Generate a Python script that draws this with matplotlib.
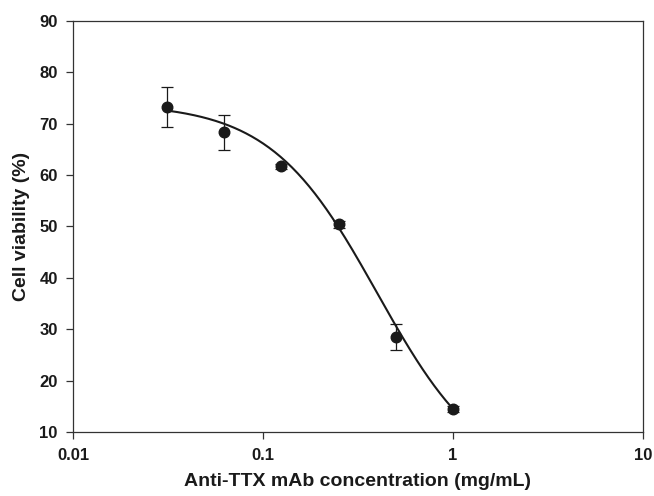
import numpy as np
import matplotlib
matplotlib.use('Agg')
import matplotlib.pyplot as plt
from matplotlib.ticker import FixedLocator, FixedFormatter, NullLocator

# mAb concentration (mg/mL), mean viability (%) and SD
conc = [0.03125, 0.0625, 0.125, 0.25, 0.5, 1.0]
viability = [73.2, 68.3, 61.7, 50.4, 28.5, 14.5]
sd = [3.9, 3.4, 0.5, 0.7, 2.5, 0.6]

# four-parameter logistic fit of the dose response
fit_top = 74.0
fit_bottom = 0.0
fit_ic50 = 0.40
fit_hill = 1.54

xticks = [0.01, 0.1, 1, 10]
xticklabels = ['0.01', '0.1', '1', '10']
yticks = [10, 20, 30, 40, 50, 60, 70, 80, 90]

plt.rcParams['font.family'] = ['Liberation Sans', 'DejaVu Sans']
plt.rcParams['font.weight'] = 'bold'

fig = plt.figure(figsize=(6.54, 4.96), dpi=100)
ax = fig.add_axes([0.1116, 0.129, 0.8714, 0.8287])

xs = np.logspace(np.log10(conc[0]), np.log10(conc[-1]), 200)
ys = fit_bottom + (fit_top - fit_bottom) / (1 + (xs / fit_ic50) ** fit_hill)
ax.plot(xs, ys, color='#1a1a1a', lw=1.5, zorder=2)

ax.errorbar(conc, viability, yerr=sd, fmt='o', color='#1a1a1a', ms=7.6,
            ecolor='#1a1a1a', elinewidth=0.9, capsize=4.6, capthick=0.9, zorder=3)

ax.set_xscale('log')
ax.set_xlim(0.01, 10)
ax.set_ylim(10, 90)
ax.xaxis.set_major_locator(FixedLocator(xticks))
ax.xaxis.set_major_formatter(FixedFormatter(xticklabels))
ax.xaxis.set_minor_locator(NullLocator())
ax.set_yticks(yticks)

for s in ax.spines.values():
    s.set_linewidth(0.9)
    s.set_color('#333333')
ax.tick_params(axis='both', which='major', direction='out', length=5, width=0.9,
               color='#333333', labelsize=12, labelcolor='#1a1a1a')
ax.tick_params(axis='x', pad=6.5)
ax.tick_params(axis='y', pad=6)

ax.set_xlabel('Anti-TTX mAb concentration (mg/mL)', fontsize=14, fontweight='bold',
              color='#1a1a1a', labelpad=7)
ax.set_ylabel('Cell viability (%)', fontsize=14, fontweight='bold',
              color='#1a1a1a', labelpad=7)

fig.savefig('out.png', dpi=100)
